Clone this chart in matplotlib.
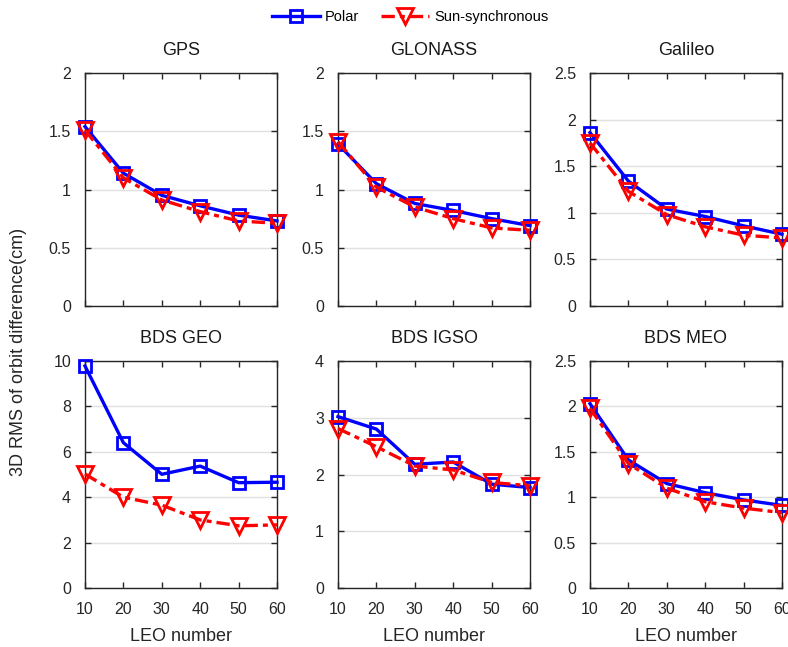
import matplotlib as mpl
import matplotlib.pyplot as plt
from matplotlib.lines import Line2D

mpl.rc('font', family='Liberation Sans', size=10)

leo = [10, 20, 30, 40, 50, 60]
titles = ['GPS', 'GLONASS', 'Galileo', 'BDS GEO', 'BDS IGSO', 'BDS MEO']

gps_polar = [1.54, 1.14, 0.95, 0.86, 0.78, 0.73]
gps_sun = [1.51, 1.10, 0.91, 0.81, 0.73, 0.71]
glo_polar = [1.39, 1.05, 0.88, 0.82, 0.75, 0.69]
glo_sun = [1.41, 1.02, 0.85, 0.75, 0.67, 0.65]
gal_polar = [1.86, 1.34, 1.04, 0.96, 0.86, 0.77]
gal_sun = [1.75, 1.23, 0.98, 0.85, 0.76, 0.73]
geo_polar = [9.78, 6.40, 5.01, 5.37, 4.64, 4.66]
geo_sun = [5.02, 4.00, 3.65, 3.00, 2.74, 2.78]
igso_polar = [3.02, 2.80, 2.18, 2.22, 1.83, 1.77]
igso_sun = [2.81, 2.49, 2.15, 2.08, 1.86, 1.80]
meo_polar = [2.03, 1.41, 1.15, 1.05, 0.97, 0.91]
meo_sun = [1.98, 1.37, 1.10, 0.95, 0.88, 0.83]

polar = [gps_polar, glo_polar, gal_polar, geo_polar, igso_polar, meo_polar]
sun = [gps_sun, glo_sun, gal_sun, geo_sun, igso_sun, meo_sun]
yticks = [[0, 0.5, 1, 1.5, 2], [0, 0.5, 1, 1.5, 2], [0, 0.5, 1, 1.5, 2, 2.5],
          [0, 2, 4, 6, 8, 10], [0, 1, 2, 3, 4], [0, 0.5, 1, 1.5, 2, 2.5]]
yticklabels = [[f'{v:g}' for v in t] for t in yticks]

W, H = 788, 647
fig = plt.figure(figsize=(W/100, H/100), dpi=100)

lefts = [85, 338, 590]
width = 192
rows = [(73, 306), (361, 588)]

pol_kw = dict(color='#0000ff', lw=2.4, marker='s', ms=8, mfc='none', mew=2)
sun_kw = dict(color='#ff0000', lw=2.4, ls=(0, (4, 1.5, 1.5, 1.5)), marker='v', ms=11,
              mfc='none', mew=2)

for i in range(6):
    r, c = divmod(i, 3)
    top, bot = rows[r]
    ax = fig.add_axes([lefts[c]/W, 1 - bot/H, width/W, (bot - top)/H])
    ax.plot(leo, polar[i], clip_on=False, zorder=3, **pol_kw)
    ax.plot(leo, sun[i], clip_on=False, zorder=4, **sun_kw)
    ax.set(xlim=(10, 60), ylim=(yticks[i][0], yticks[i][-1]),
           xticks=leo, yticks=yticks[i])
    ax.set_yticklabels(yticklabels[i], fontsize=11.5, color='#262626')
    if r == 0:
        ax.set_xticklabels([])
    else:
        ax.set_xticklabels([str(v) for v in leo], fontsize=11.5, color='#262626')
        ax.set_xlabel('LEO number', fontsize=13, color='#262626', labelpad=8)
    ax.set_title(titles[i], fontsize=13, color='#1a1a1a', pad=13)
    ax.grid(axis='y', color='#e0e0e0', lw=1)
    ax.set_axisbelow(True)
    ax.tick_params(direction='in', top=True, right=True, length=4, width=1,
                   color='#262626', pad=10)
    for s in ax.spines.values():
        s.set_color('#262626')
        s.set_linewidth(1)

fig.text(19/W, 1 - 352/H, '3D RMS of orbit difference(cm)', rotation=90,
         ha='center', va='center', fontsize=13, color='#262626')

handles = [Line2D([], [], **pol_kw), Line2D([], [], **sun_kw)]
fig.legend(handles, ['Polar', 'Sun-synchronous'], loc='center', ncol=2,
           bbox_to_anchor=(410/W, 1 - 17/H), frameon=False, fontsize=10.5,
           handlelength=3.3, columnspacing=1.5, handletextpad=0.35)

fig.savefig('out.png', dpi=100)
